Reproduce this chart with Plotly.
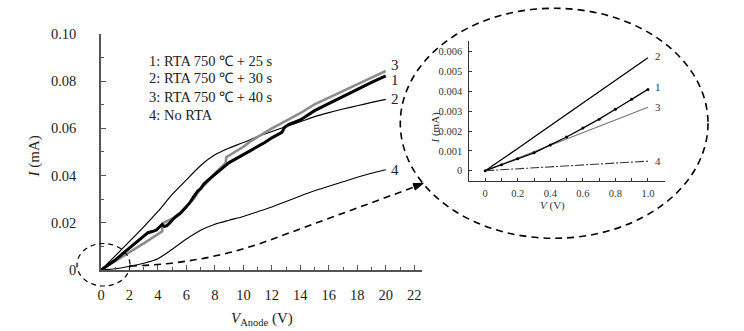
import plotly.graph_objects as go

# ---------------- data (main panel) ----------------
v2 = list(range(0, 21))
i2 = [0, 0.0060, 0.0121, 0.0183, 0.0248, 0.0320, 0.0382, 0.0443, 0.0488, 0.0517, 0.0540,
      0.0565, 0.0587, 0.0608, 0.0628, 0.0650, 0.0667, 0.0682, 0.0696, 0.0710, 0.0723]

v4 = list(range(0, 21))
i4 = [0, 0.0005, 0.0016, 0.0029, 0.0048, 0.0088, 0.0131, 0.0168, 0.0194, 0.0211, 0.0227,
      0.0247, 0.0267, 0.0290, 0.0314, 0.0336, 0.0355, 0.0374, 0.0393, 0.0410, 0.0425]

v1 = [0, 0.5, 1, 1.5, 2, 2.5, 3, 3.3, 3.6, 3.9, 4.1, 4.3, 4.45, 4.6, 4.8, 5.0, 5.3, 5.6, 5.9,
      6.2, 6.5, 6.8, 7.0, 7.2, 7.5, 7.8, 8.1, 8.4, 8.7, 9.0, 9.5, 10, 10.5, 11, 11.5, 12, 12.4,
      12.7, 12.9, 13.2, 13.6, 14, 15, 16, 17, 18, 19, 20]
i1 = [0, 0.0021, 0.0042, 0.0068, 0.0094, 0.0118, 0.0143, 0.0158, 0.0163, 0.0170, 0.0182,
      0.0193, 0.0185, 0.0187, 0.0197, 0.0212, 0.0228, 0.0242, 0.0262, 0.0282, 0.0310, 0.0335,
      0.0345, 0.0362, 0.0380, 0.0396, 0.0410, 0.0426, 0.0440, 0.0455, 0.0472, 0.0487, 0.0505,
      0.0522, 0.0540, 0.0560, 0.0572, 0.0583, 0.0605, 0.0617, 0.0626, 0.0636, 0.0675, 0.0705,
      0.0738, 0.0768, 0.0795, 0.0822]

v3 = [0, 1, 2, 3, 4, 4.3, 4.32, 4.6, 5, 5.5, 6, 6.5, 7, 7.5, 8, 8.5, 8.75, 8.8, 9, 9.5, 10,
      10.5, 11, 11.5, 12, 13, 14, 15, 16, 17, 18, 19, 20]
i3 = [0, 0.0037, 0.0075, 0.0113, 0.0152, 0.0164, 0.0198, 0.0205, 0.0218, 0.0238, 0.0268,
      0.0300, 0.0345, 0.0375, 0.0410, 0.0440, 0.0452, 0.0478, 0.0485, 0.0505, 0.0522, 0.0545,
      0.0565, 0.0582, 0.0600, 0.0633, 0.0665, 0.0702, 0.0731, 0.0759, 0.0788, 0.0815, 0.0843]

legend_lines = ["1: RTA 750 \u2103 + 25 s", "2: RTA 750 \u2103 + 30 s",
                "3: RTA 750 \u2103 + 40 s", "4: No RTA"]

x_ticks = list(range(0, 23, 2))
y_ticks = [0, 0.02, 0.04, 0.06, 0.08, 0.10]
y_ticktext = ["0", "0.02", "0.04", "0.06", "0.08", "0.10"]

# ---------------- data (inset) ----------------
vin = [0, 0.1, 0.2, 0.3, 0.4, 0.5, 0.6, 0.7, 0.8, 0.9, 1.0]
in1 = [0, 0.0003, 0.0006, 0.0009, 0.0013, 0.0017, 0.00215, 0.0026, 0.0031, 0.0036, 0.0041]
in2 = [0, 0.00055, 0.00112, 0.0017, 0.00227, 0.00284, 0.0034, 0.00397, 0.00455, 0.00512, 0.0057]
in3 = [0, 0.00032, 0.00064, 0.00096, 0.00128, 0.0016, 0.00192, 0.00224, 0.00256, 0.00288, 0.0032]
in4 = [0, 0.00005, 0.0001, 0.00014, 0.00019, 0.00024, 0.00029, 0.00033, 0.00038, 0.00043, 0.00048]
in_xticks = [0, 0.2, 0.4, 0.6, 0.8, 1.0]
in_xticktext = ["0", "0.2", "0.4", "0.6", "0.8", "1.0"]
in_yticks = [0, 0.001, 0.002, 0.003, 0.004, 0.005, 0.006]
in_yticktext = ["0", "0.001", "0.002", "0.003", "0.004", "0.005", "0.006"]

W, H = 744, 331
SERIF = "Liberation Serif"


def px(x):
    return x / W


def py(y):
    return 1 - y / H


fig = go.Figure()

# main traces
fig.add_trace(go.Scatter(x=v2, y=i2, mode="lines", line=dict(color="black", width=1.2, shape="spline", smoothing=0.6),
                         xaxis="x", yaxis="y"))
fig.add_trace(go.Scatter(x=v4, y=i4, mode="lines", line=dict(color="black", width=1.1, shape="spline", smoothing=0.6),
                         xaxis="x", yaxis="y"))
fig.add_trace(go.Scatter(x=v3, y=i3, mode="lines", line=dict(color="#8c8c8c", width=2.6),
                         xaxis="x", yaxis="y"))
fig.add_trace(go.Scatter(x=v1, y=i1, mode="lines", line=dict(color="black", width=3),
                         xaxis="x", yaxis="y"))

# inset traces
fig.add_trace(go.Scatter(x=vin, y=in2, mode="lines", line=dict(color="black", width=1.3),
                         xaxis="x2", yaxis="y2"))
fig.add_trace(go.Scatter(x=vin, y=in3, mode="lines", line=dict(color="#777777", width=1.1),
                         xaxis="x2", yaxis="y2"))
fig.add_trace(go.Scatter(x=vin, y=in1, mode="lines+markers", line=dict(color="black", width=1.3),
                         marker=dict(size=3, color="black"), xaxis="x2", yaxis="y2"))
fig.add_trace(go.Scatter(x=vin, y=in4, mode="lines", line=dict(color="#333333", width=1.1, dash="9px,2px,2px,2px"),
                         xaxis="x2", yaxis="y2"))

axis_common = dict(showgrid=False, zeroline=False, showline=True, ticks="inside", automargin=False)

fig.update_layout(
    template="none",
    width=W, height=H, margin=dict(l=0, r=0, t=0, b=0, pad=0), autosize=False,
    paper_bgcolor="white", plot_bgcolor="rgba(0,0,0,0)", showlegend=False,
    font=dict(family=SERIF),
    xaxis=dict(axis_common, domain=[px(101), px(421.5)], range=[0, 22.51], anchor="y",
               tickmode="array", tickvals=x_ticks, ticklen=5, tickwidth=1.2,
               linecolor="#555", linewidth=2, tickcolor="#555",
               tickfont=dict(family=SERIF, size=14.5, color="#222"), ticklabelstandoff=11,
               minor=dict(tickvals=list(range(1, 23, 2)), ticks="inside", ticklen=3, tickcolor="#555")),
    yaxis=dict(axis_common, domain=[py(270), py(33.5)], range=[0, 0.1002], anchor="x",
               tickmode="array", tickvals=y_ticks, ticktext=y_ticktext, ticklen=5, tickwidth=1.2,
               linecolor="#555", linewidth=1.5, tickcolor="#555",
               tickfont=dict(family=SERIF, size=14.5, color="#222"), ticklabelstandoff=20,
               minor=dict(tickvals=[0.01, 0.03, 0.05, 0.07, 0.09], ticks="inside", ticklen=3,
                          tickcolor="#555")),
    xaxis2=dict(axis_common, domain=[px(469.3), px(664.7)], range=[-0.098, 1.103], anchor="y2",
                tickmode="array", tickvals=in_xticks, ticktext=in_xticktext, ticklen=3,
                linecolor="#333", linewidth=1, tickcolor="#333",
                tickfont=dict(family=SERIF, size=10.5, color="#333"), ticklabelstandoff=2,
                minor=dict(tickvals=[0.1, 0.3, 0.5, 0.7, 0.9], ticks="inside", ticklen=3,
                           tickcolor="#333")),
    yaxis2=dict(axis_common, domain=[py(181), py(40.5)], range=[-0.00052, 0.006566], anchor="x2",
                tickmode="array", tickvals=in_yticks, ticktext=in_yticktext, ticklen=3,
                linecolor="#333", linewidth=1, tickcolor="#333",
                tickfont=dict(family=SERIF, size=10.5, color="#333"), ticklabelstandoff=4),
)

ann = []
# axis titles
ann.append(dict(x=px(262), y=py(330), xref="paper", yref="paper", showarrow=False, yanchor="bottom",
                text="<i>V</i><sub>Anode</sub> (V)", font=dict(family=SERIF, size=15, color="#222")))
ann.append(dict(x=px(24), y=py(157), xref="paper", yref="paper", showarrow=False, textangle=-90,
                xanchor="left", text="<i>I</i> (mA)", font=dict(family=SERIF, size=15, color="#222")))
ann.append(dict(x=px(567), y=py(214), xref="paper", yref="paper", showarrow=False, yanchor="bottom",
                text="<i>V</i> (V)", font=dict(family=SERIF, size=11, color="#333")))
ann.append(dict(x=px(426), y=py(110), xref="paper", yref="paper", showarrow=False, textangle=-90,
                xanchor="left", text="<i>I</i> (mA)", font=dict(family=SERIF, size=11, color="#333")))
# legend text
for t, yy in zip(legend_lines, [50.7, 68.3, 86.7, 105]):
    ann.append(dict(x=px(147), y=py(yy), xref="paper", yref="paper", showarrow=False, xanchor="left",
                    text=t, font=dict(family=SERIF, size=14.5, color="#222")))
# curve labels main
for t, yy in zip(["3", "1", "2", "4"], [0.0868, 0.0806, 0.0725, 0.0424]):
    ann.append(dict(x=20.25, y=yy, xref="x", yref="y", showarrow=False, xanchor="left",
                    text=t, font=dict(family=SERIF, size=15, color="#222")))
# curve labels inset
for t, yy in zip(["2", "1", "3", "4"], [0.0058, 0.0042, 0.0032, 0.00048]):
    ann.append(dict(x=1.03, y=yy, xref="x2", yref="y2", showarrow=False, xanchor="left",
                    text=t, font=dict(family=SERIF, size=11, color="#333")))
fig.update_layout(annotations=ann)

# shapes: dashed circle, dashed ellipse, curved dashed arrow
shapes = []
shapes.append(dict(type="circle", xref="paper", yref="paper", x0=px(77), x1=px(130),
                   y0=py(286), y1=py(243.5), line=dict(color="black", width=1.2, dash="5px,4px")))
shapes.append(dict(type="circle", xref="paper", yref="paper", x0=px(400.3), x1=px(708),
                   y0=py(238.3), y1=py(8.3), line=dict(color="black", width=1.6, dash="7px,5px")))
path = "M {:.5f} {:.5f} Q {:.5f} {:.5f} {:.5f} {:.5f} L {:.5f} {:.5f}".format(
    px(130), py(266), px(205), py(264), px(270), py(240), px(417), py(186))
shapes.append(dict(type="path", xref="paper", yref="paper", path=path,
                   line=dict(color="black", width=1.6, dash="7px,5px")))
tri = "M {:.5f} {:.5f} L {:.5f} {:.5f} L {:.5f} {:.5f} Z".format(
    px(423.3), py(183.3), px(415.2), py(190.0), px(413.0), py(183.6))
shapes.append(dict(type="path", xref="paper", yref="paper", path=tri,
                   fillcolor="black", line=dict(color="black", width=1)))
fig.update_layout(shapes=shapes)

fig.write_html("out.html", post_script="document.body.style.margin='0';document.body.style.padding='0';document.body.style.overflow='hidden';")
